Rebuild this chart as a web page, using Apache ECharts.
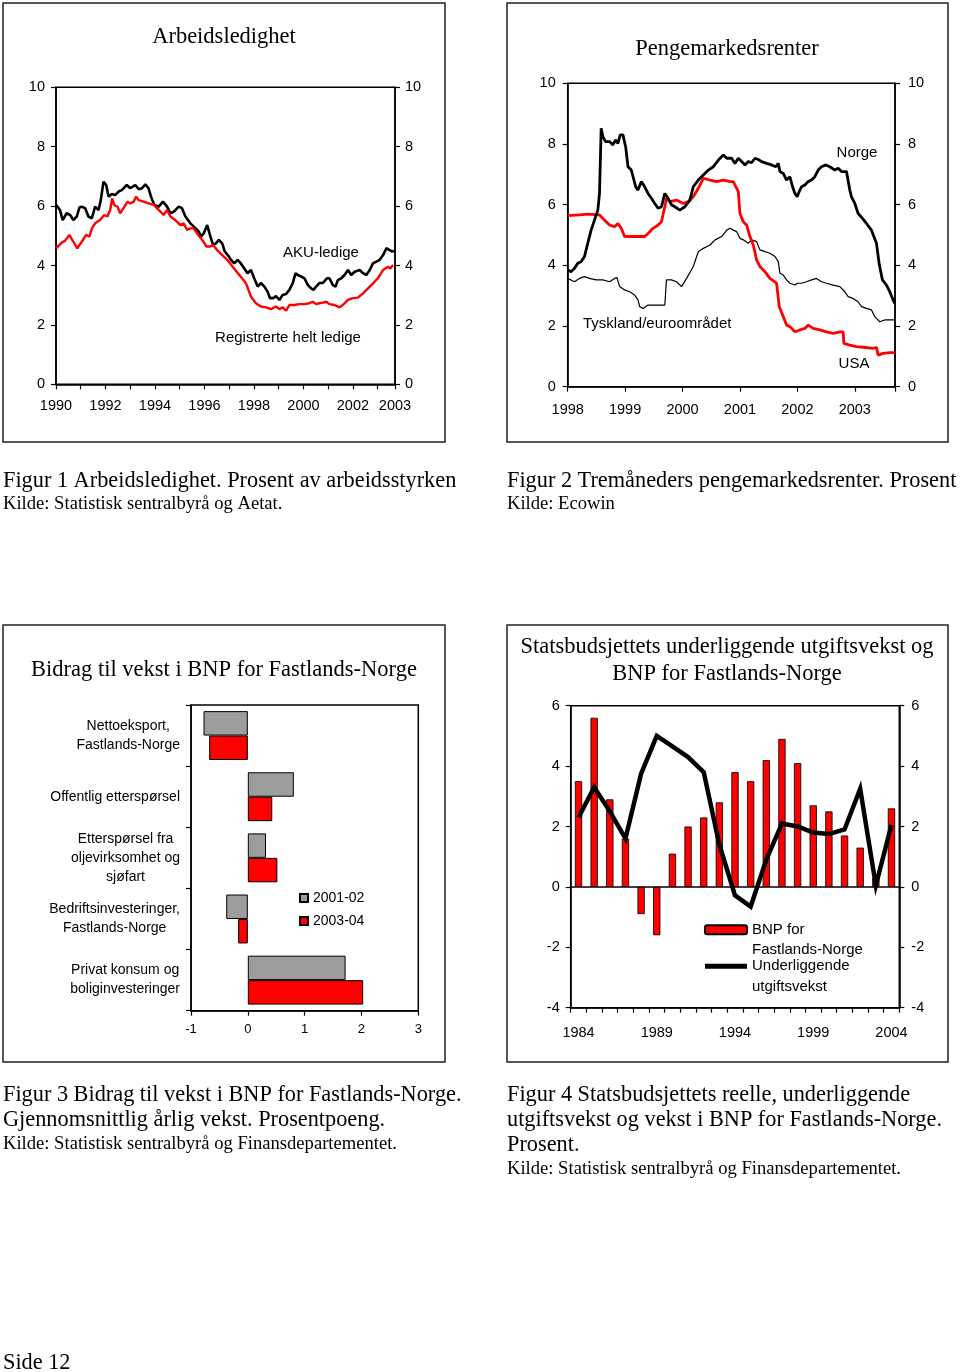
<!DOCTYPE html>
<html><head><meta charset="utf-8">
<script src="https://cdn.jsdelivr.net/npm/echarts@6/dist/echarts.min.js"></script>
<style>html,body{margin:0;padding:0;background:#fff}#c{width:960px;height:1372px}</style>
</head><body><div id="c"></div>
<script>
// ---------- Figur 1: Arbeidsledighet (år, prosent) ----------
const akuLedige = [
[1990.00,6.04],[1990.16,5.87],[1990.27,5.53],[1990.43,5.76],[1990.57,5.70],[1990.70,5.53],[1990.84,5.65],[1990.95,5.96],[1991.04,5.98],[1991.18,5.93],[1991.31,5.65],[1991.45,5.59],[1991.58,5.98],[1991.72,5.87],[1991.81,6.20],[1991.92,6.82],[1992.03,6.71],[1992.12,6.32],[1992.26,6.41],[1992.39,6.37],[1992.53,6.49],[1992.66,6.54],[1992.86,6.71],[1993.00,6.60],[1993.20,6.71],[1993.34,6.57],[1993.47,6.60],[1993.61,6.73],[1993.74,6.60],[1993.84,6.32],[1993.97,6.04],[1994.15,5.98],[1994.32,6.15],[1994.49,5.98],[1994.62,5.76],[1994.76,5.81],[1994.96,5.98],[1995.09,5.93],[1995.23,5.65],[1995.43,5.42],[1995.64,5.25],[1995.77,5.14],[1995.86,4.97],[1995.97,5.08],[1996.11,5.36],[1996.24,4.97],[1996.35,4.69],[1996.45,4.74],[1996.58,4.86],[1996.72,4.74],[1996.82,4.47],[1996.99,4.30],[1997.07,4.19],[1997.20,4.07],[1997.34,4.19],[1997.47,4.07],[1997.61,3.90],[1997.74,3.74],[1997.88,3.85],[1998.01,3.57],[1998.15,3.29],[1998.28,3.41],[1998.42,3.29],[1998.55,3.12],[1998.65,2.90],[1998.78,2.90],[1998.89,2.97],[1999.03,2.84],[1999.16,3.01],[1999.30,3.04],[1999.43,3.18],[1999.57,3.41],[1999.68,3.74],[1999.77,3.68],[1999.91,3.63],[2000.04,3.57],[2000.18,3.34],[2000.31,3.23],[2000.41,3.18],[2000.51,3.29],[2000.65,3.41],[2000.78,3.41],[2000.95,3.57],[2001.05,3.57],[2001.19,3.34],[2001.30,3.29],[2001.39,3.51],[2001.53,3.57],[2001.66,3.68],[2001.80,3.85],[2001.93,3.68],[2002.07,3.79],[2002.27,3.85],[2002.41,3.74],[2002.54,3.68],[2002.68,3.85],[2002.81,4.07],[2002.95,4.13],[2003.08,4.19],[2003.22,4.35],[2003.35,4.58],[2003.49,4.52],[2003.59,4.47],[2003.66,4.50]
];
const registrerteLedige = [
[1990.00,4.58],[1990.23,4.77],[1990.36,4.83],[1990.54,5.03],[1990.70,4.80],[1990.86,4.58],[1991.04,4.80],[1991.22,5.03],[1991.35,4.97],[1991.45,5.25],[1991.58,5.42],[1991.78,5.53],[1991.95,5.70],[1992.08,5.65],[1992.19,5.87],[1992.27,6.26],[1992.35,6.04],[1992.49,5.98],[1992.59,5.76],[1992.73,5.93],[1992.89,6.15],[1993.00,6.09],[1993.14,6.15],[1993.24,6.32],[1993.34,6.20],[1993.54,6.15],[1993.74,6.09],[1993.95,6.04],[1994.15,5.87],[1994.35,5.70],[1994.49,5.87],[1994.62,5.65],[1994.82,5.53],[1995.03,5.36],[1995.16,5.42],[1995.30,5.20],[1995.43,5.25],[1995.57,5.25],[1995.70,5.08],[1995.91,4.86],[1996.08,4.64],[1996.24,4.64],[1996.35,4.69],[1996.51,4.52],[1996.72,4.35],[1996.92,4.19],[1997.14,3.96],[1997.41,3.68],[1997.68,3.40],[1997.88,2.95],[1998.08,2.73],[1998.28,2.62],[1998.49,2.59],[1998.69,2.53],[1998.89,2.62],[1999.03,2.53],[1999.16,2.59],[1999.30,2.48],[1999.43,2.67],[1999.64,2.67],[1999.84,2.70],[2000.04,2.70],[2000.24,2.73],[2000.38,2.78],[2000.51,2.70],[2000.65,2.73],[2000.78,2.75],[2000.92,2.78],[2001.05,2.70],[2001.26,2.67],[2001.46,2.59],[2001.59,2.67],[2001.80,2.84],[2002.00,2.90],[2002.20,2.92],[2002.41,3.06],[2002.61,3.23],[2002.81,3.40],[2003.01,3.57],[2003.22,3.85],[2003.42,3.96],[2003.51,3.90],[2003.62,4.02]
];
const fig1Range = [1990, 2003.7];
const fig1EndLabel = '2003';

// ---------- Figur 2: Tremåneders pengemarkedsrenter ----------
const norge = [
[1998.000,3.85],[1998.058,3.79],[1998.117,3.90],[1998.175,4.07],[1998.233,4.12],[1998.292,4.29],[1998.350,4.73],[1998.408,5.16],[1998.466,5.49],[1998.525,5.82],[1998.554,6.37],[1998.583,8.52],[1998.612,8.24],[1998.659,8.08],[1998.729,8.08],[1998.787,7.97],[1998.834,8.13],[1998.875,8.02],[1998.915,8.30],[1998.962,8.30],[1999.009,7.91],[1999.050,7.25],[1999.108,7.14],[1999.184,6.59],[1999.224,6.48],[1999.283,6.76],[1999.341,6.59],[1999.399,6.37],[1999.458,6.21],[1999.516,6.04],[1999.574,5.88],[1999.633,5.93],[1999.691,6.37],[1999.749,6.21],[1999.808,5.99],[1999.866,5.93],[1999.953,5.82],[2000.041,5.93],[2000.128,6.15],[2000.187,6.59],[2000.274,6.81],[2000.362,6.98],[2000.449,7.14],[2000.536,7.25],[2000.624,7.47],[2000.711,7.64],[2000.770,7.53],[2000.797,7.47],[2000.855,7.53],[2000.913,7.36],[2000.971,7.53],[2001.029,7.42],[2001.087,7.31],[2001.145,7.42],[2001.203,7.38],[2001.261,7.53],[2001.319,7.49],[2001.377,7.42],[2001.464,7.36],[2001.551,7.31],[2001.626,7.25],[2001.667,7.36],[2001.696,7.09],[2001.754,7.03],[2001.812,6.81],[2001.870,6.92],[2001.916,6.59],[2001.957,6.37],[2001.997,6.26],[2002.032,6.43],[2002.072,6.59],[2002.130,6.65],[2002.188,6.76],[2002.246,6.81],[2002.304,6.92],[2002.362,7.14],[2002.420,7.25],[2002.496,7.31],[2002.565,7.25],[2002.652,7.14],[2002.710,7.20],[2002.768,7.09],[2002.855,7.09],[2002.884,7.03],[2002.913,6.48],[2002.942,6.26],[2003.000,6.04],[2003.058,5.71],[2003.133,5.55],[2003.203,5.38],[2003.290,5.16],[2003.377,4.73],[2003.423,4.07],[2003.481,3.52],[2003.551,3.35],[2003.609,3.13],[2003.667,2.86],[2003.696,2.75]
];
const tyskland = [
[1998.000,3.57],[1998.117,3.46],[1998.204,3.57],[1998.292,3.63],[1998.379,3.57],[1998.496,3.52],[1998.612,3.52],[1998.729,3.46],[1998.816,3.57],[1998.857,3.60],[1998.904,3.30],[1998.991,3.19],[1999.079,3.13],[1999.166,3.02],[1999.224,2.86],[1999.254,2.64],[1999.312,2.58],[1999.399,2.69],[1999.516,2.69],[1999.633,2.69],[1999.691,2.69],[1999.720,3.52],[1999.808,3.52],[1999.895,3.46],[1999.983,3.30],[2000.070,3.57],[2000.187,3.96],[2000.274,4.45],[2000.362,4.56],[2000.478,4.67],[2000.566,4.84],[2000.682,4.95],[2000.770,5.16],[2000.828,5.22],[2000.884,5.16],[2000.942,5.11],[2001.000,4.89],[2001.058,4.84],[2001.145,4.73],[2001.203,4.84],[2001.290,4.78],[2001.348,4.51],[2001.435,4.45],[2001.522,4.40],[2001.609,4.29],[2001.667,4.12],[2001.696,3.74],[2001.754,3.68],[2001.812,3.52],[2001.870,3.41],[2001.957,3.35],[2001.997,3.41],[2002.072,3.41],[2002.159,3.46],[2002.246,3.52],[2002.333,3.57],[2002.420,3.46],[2002.507,3.41],[2002.623,3.35],[2002.739,3.30],[2002.826,3.13],[2002.884,2.97],[2002.971,2.91],[2003.058,2.80],[2003.116,2.64],[2003.203,2.58],[2003.290,2.53],[2003.348,2.31],[2003.435,2.14],[2003.522,2.20],[2003.609,2.20],[2003.696,2.20]
];
const usa = [
[1998.000,5.64],[1998.204,5.66],[1998.350,5.69],[1998.554,5.66],[1998.641,5.49],[1998.729,5.33],[1998.816,5.27],[1998.875,5.38],[1998.933,5.22],[1998.991,4.95],[1999.079,4.95],[1999.195,4.95],[1999.341,4.95],[1999.399,5.05],[1999.487,5.22],[1999.574,5.33],[1999.633,5.44],[1999.691,5.93],[1999.720,6.21],[1999.778,6.10],[1999.895,6.15],[2000.012,6.04],[2000.099,6.10],[2000.187,6.26],[2000.274,6.54],[2000.362,6.87],[2000.478,6.81],[2000.595,6.76],[2000.711,6.81],[2000.828,6.76],[2000.884,6.76],[2000.971,6.43],[2001.000,5.71],[2001.058,5.44],[2001.116,5.33],[2001.174,4.95],[2001.232,4.67],[2001.290,4.18],[2001.348,3.96],[2001.435,3.79],[2001.522,3.57],[2001.638,3.41],[2001.684,2.64],[2001.754,2.31],[2001.812,2.03],[2001.870,1.98],[2001.957,1.81],[2002.043,1.87],[2002.130,1.92],[2002.188,2.03],[2002.275,1.92],[2002.391,1.87],[2002.507,1.81],[2002.623,1.76],[2002.739,1.81],[2002.797,1.81],[2002.809,1.43],[2002.913,1.37],[2003.029,1.32],[2003.145,1.30],[2003.319,1.26],[2003.377,1.30],[2003.406,1.04],[2003.493,1.10],[2003.609,1.12],[2003.696,1.12]
];
const fig2Range = [1998, 2003.7];

// ---------- Figur 3: Bidrag til vekst ----------
const fig3Categories = ['Nettoeksport,\nFastlands-Norge', 'Offentlig etterspørsel', 'Etterspørsel fra\noljevirksomhet og\nsjøfart', 'Bedriftsinvesteringer,\nFastlands-Norge', 'Privat konsum og\nboliginvesteringer'];
const fig3SeriesNames = ['2001-02', '2003-04'];
const vekst2001_02 = [-0.78, 0.81, 0.32, -0.38, 1.72];
const vekst2003_04 = [-0.68, 0.43, 0.52, -0.17, 2.03];

// ---------- Figur 4: Utgiftsvekst og BNP ----------
const fig4Years = ['1984','1985','1986','1987','1988','1989','1990','1991','1992','1993','1994','1995','1996','1997','1998','1999','2000','2001','2002','2003','2004'];
const fig4SeriesNames = ['BNP for\nFastlands-Norge', 'Underliggende\nutgiftsvekst'];
const bnpFastland = [3.5, 5.6, 2.9, 1.6, -0.9, -1.6, 1.1, 2.0, 2.3, 2.8, 3.8, 3.5, 4.2, 4.9, 4.1, 2.7, 2.5, 1.7, 1.3, 0.3, 2.6];
const utgiftsvekst = [2.3, 3.3, 2.5, 1.6, 3.75, 5.0, 4.65, 4.3, 3.8, 1.4, -0.28, -0.65, 0.9, 2.1, 2.0, 1.8, 1.75, 1.9, 3.25, 0.05, 2.05];

// ---------- styles ----------
const SANS = '"Liberation Sans", Arial, sans-serif';
const SERIF = '"Liberation Serif", "Times New Roman", serif';
const RED = '#ff0000';
const GRAY = '#9d9d9d';
const axLine = {show: true, onZero: false, lineStyle: {color: '#000', width: 1.5}};
const axTick = {show: true, length: 5, lineStyle: {color: '#000', width: 1.2}};
const lbl = (extra) => Object.assign({color: '#000', fontFamily: SANS, fontSize: 14.5}, extra);

function yearFmt(range, endLabel, step) {
  return function (v) {
    if (endLabel && Math.abs(v - range[1]) < 1e-6) return endLabel;
    const r = Math.round(v);
    if (Math.abs(v - r) > 1e-6 || r > Math.floor(range[1]) - (endLabel ? 1 : 0)) return '';
    return ((r - range[0]) % step === 0) ? String(r) : '';
  };
}

function valY(gridIndex, min, max, interval, pos, margin) {
  return {type: 'value', gridIndex, position: pos, min, max, interval,
    axisLine: axLine, axisTick: axTick, splitLine: {show: false},
    axisLabel: lbl({margin})};
}

const gridBase = {show: true, borderColor: '#000', borderWidth: 1.5, backgroundColor: 'transparent', containLabel: false, outerBoundsMode: 'none'};

function txt(text, x, y, size, family, align) {
  return {type: 'text', x: 0, y: 0, silent: true, z: 100,
    style: {text, x, y, fill: '#000', font: size + 'px ' + family,
      align: align || 'left', textAlign: align || 'left', verticalAlign: 'middle', textVerticalAlign: 'middle'}};
}
function box(x, y, w, h) {
  return {type: 'rect', silent: true, z: 0, shape: {x, y, width: w, height: h},
    style: {fill: 'none', stroke: '#222', lineWidth: 1.5}};
}

const option = {
  animation: false,
  backgroundColor: '#fff',
  grid: [
    Object.assign({left: 56, top: 87.3, width: 339, height: 297}, gridBase),
    Object.assign({left: 567.7, top: 83.3, width: 327.3, height: 303.4}, gridBase),
    Object.assign({left: 191, top: 705, width: 227.3, height: 305.7}, gridBase),
    Object.assign({left: 570.7, top: 705.7, width: 328.6, height: 302}, gridBase)
  ],
  xAxis: [
    {type: 'value', gridIndex: 0, min: fig1Range[0], max: fig1Range[1], interval: 1,
      axisLine: axLine, axisTick: axTick, splitLine: {show: false},
      axisLabel: lbl({margin: 14, showMaxLabel: true, showMinLabel: true, formatter: yearFmt(fig1Range, fig1EndLabel, 2)})},
    {type: 'value', gridIndex: 1, min: fig2Range[0], max: fig2Range[1], interval: 1,
      axisLine: axLine, axisTick: axTick, splitLine: {show: false},
      axisLabel: lbl({margin: 16, formatter: yearFmt(fig2Range, null, 1)})},
    {type: 'value', gridIndex: 2, min: -1, max: 3, interval: 1, position: 'bottom',
      axisLine: axLine, axisTick: axTick, splitLine: {show: false},
      axisLabel: lbl({margin: 12, fontSize: 13})},
    {type: 'category', gridIndex: 3, data: fig4Years, position: 'bottom', boundaryGap: true,
      axisLine: axLine, axisTick: Object.assign({interval: 0, alignWithLabel: false}, axTick),
      axisLabel: lbl({margin: 18, interval: 4})},
    {type: 'category', gridIndex: 3, data: fig4Years, position: 'top',
      axisLine: {show: true, onZero: true, lineStyle: {color: '#000', width: 1.5}},
      axisTick: {show: false}, axisLabel: {show: false}}
  ],
  yAxis: [
    valY(0, 0, 10, 2, 'left', 11),
    valY(0, 0, 10, 2, 'right', 10),
    valY(1, 0, 10, 2, 'left', 12),
    valY(1, 0, 10, 2, 'right', 13),
    {type: 'category', gridIndex: 2, data: fig3Categories, inverse: true, position: 'left',
      axisLine: {show: false}, axisTick: {show: false},
      axisLabel: {margin: 11, align: 'right', color: '#000',
        formatter: v => v.split('\n').map(s => '{c|' + s + '}').join('\n'),
        rich: {c: {align: 'center', fontSize: 14, fontFamily: SANS, color: '#000', lineHeight: 19}}}},
    {type: 'category', gridIndex: 2, data: fig3Categories, inverse: true, position: 'left',
      axisLine: {show: true, onZero: true, lineStyle: {color: '#000', width: 1.5}},
      axisTick: {show: true, length: 5, interval: 0, lineStyle: {color: '#000', width: 1.2}},
      axisLabel: {show: false}},
    valY(3, -4, 6, 2, 'left', 11),
    valY(3, -4, 6, 2, 'right', 12)
  ],
  legend: [
    {data: fig3SeriesNames, orient: 'vertical', left: 299, top: 891, padding: 0,
      itemWidth: 8, itemHeight: 8, itemGap: 9, icon: 'rect',
      textStyle: {fontSize: 14, fontFamily: SANS, color: '#000'}},
    {data: [
        {name: fig4SeriesNames[0]},
        {name: fig4SeriesNames[1], icon: 'path://M0,0L42,0L42,5L0,5Z', itemStyle: {color: '#000', borderWidth: 0}}
      ],
      orient: 'vertical', left: 704, top: 899, padding: 0,
      itemWidth: 42, itemHeight: 9, itemGap: -25, itemTextGap: 5,
      formatter: n => '\n' + n,
      textStyle: {fontSize: 15, fontFamily: SANS, color: '#000', lineHeight: 20.5}}
  ],
  series: [
    {name: 'AKU-ledige', type: 'line', xAxisIndex: 0, yAxisIndex: 0, data: akuLedige,
      symbol: 'none', lineStyle: {color: '#000', width: 2.6}, itemStyle: {color: '#000'}},
    {name: 'Registrerte helt ledige', type: 'line', xAxisIndex: 0, yAxisIndex: 0, data: registrerteLedige,
      symbol: 'none', lineStyle: {color: RED, width: 2.4}, itemStyle: {color: RED}},
    {name: 'Tyskland/euroområdet', type: 'line', xAxisIndex: 1, yAxisIndex: 2, data: tyskland,
      symbol: 'none', lineStyle: {color: '#000', width: 1.2}, itemStyle: {color: '#000'}},
    {name: 'USA', type: 'line', xAxisIndex: 1, yAxisIndex: 2, data: usa,
      symbol: 'none', lineStyle: {color: RED, width: 2.8}, itemStyle: {color: RED}},
    {name: 'Norge', type: 'line', xAxisIndex: 1, yAxisIndex: 2, data: norge,
      symbol: 'none', lineStyle: {color: '#000', width: 2.8}, itemStyle: {color: '#000'}},
    {name: fig3SeriesNames[0], type: 'bar', xAxisIndex: 2, yAxisIndex: 4, data: vekst2001_02,
      barGap: '0%', barCategoryGap: '20%',
      itemStyle: {color: GRAY, borderColor: '#000', borderWidth: 1}},
    {name: fig3SeriesNames[1], type: 'bar', xAxisIndex: 2, yAxisIndex: 4, data: vekst2003_04,
      barGap: '0%', barCategoryGap: '20%',
      itemStyle: {color: RED, borderColor: '#000', borderWidth: 1}},
    {name: fig4SeriesNames[0], type: 'bar', xAxisIndex: 3, yAxisIndex: 6, data: bnpFastland,
      barWidth: 7.3, itemStyle: {color: RED, borderColor: '#000', borderWidth: 0.8}},
    {name: fig4SeriesNames[1], type: 'line', xAxisIndex: 3, yAxisIndex: 6, data: utgiftsvekst,
      symbol: 'none', lineStyle: {color: '#000', width: 4.5, join: 'miter'}, itemStyle: {color: '#000'}}
  ],
  graphic: [
    box(3, 3, 442, 439), box(507, 3, 441, 439), box(3, 625, 442, 437), box(507, 625, 441, 437),
    txt('Arbeidsledighet', 224, 37, 22.5, SERIF, 'center'),
    txt('Pengemarkedsrenter', 727, 49, 22.5, SERIF, 'center'),
    txt('Bidrag til vekst i BNP for Fastlands-Norge', 224, 670, 22.5, SERIF, 'center'),
    txt('Statsbudsjettets underliggende utgiftsvekst og', 727, 647, 22.5, SERIF, 'center'),
    txt('BNP for Fastlands-Norge', 727, 674, 22.5, SERIF, 'center'),
    txt('AKU-ledige', 321, 253, 15, SANS, 'center'),
    txt('Registrerte helt ledige', 288, 338, 15, SANS, 'center'),
    txt('Norge', 857, 153, 15, SANS, 'center'),
    txt('Tyskland/euroområdet', 583, 324, 15, SANS, 'left'),
    txt('USA', 854, 364, 15, SANS, 'center'),
    txt('Figur 1 Arbeidsledighet. Prosent av arbeidsstyrken', 3, 481, 22.3, SERIF),
    txt('Kilde: Statistisk sentralbyrå og Aetat.', 3, 504, 18.6, SERIF),
    txt('Figur 2 Tremåneders pengemarkedsrenter. Prosent', 507, 481, 22.3, SERIF),
    txt('Kilde: Ecowin', 507, 504, 18.6, SERIF),
    txt('Figur 3 Bidrag til vekst i BNP for Fastlands-Norge.', 3, 1095, 22.3, SERIF),
    txt('Gjennomsnittlig årlig vekst. Prosentpoeng.', 3, 1120, 22.3, SERIF),
    txt('Kilde: Statistisk sentralbyrå og Finansdepartementet.', 3, 1144, 18.6, SERIF),
    txt('Figur 4 Statsbudsjettets reelle, underliggende', 507, 1095, 22.3, SERIF),
    txt('utgiftsvekst og vekst i BNP for Fastlands-Norge.', 507, 1120, 22.3, SERIF),
    txt('Prosent.', 507, 1145, 22.3, SERIF),
    txt('Kilde: Statistisk sentralbyrå og Finansdepartementet.', 507, 1169, 18.6, SERIF),
    txt('Side 12', 3, 1363, 22.3, SERIF)
  ]
};

const chart = echarts.init(document.getElementById('c'), null, {renderer: 'canvas', width: 960, height: 1372});
chart.setOption(option);
</script>
</body></html>
